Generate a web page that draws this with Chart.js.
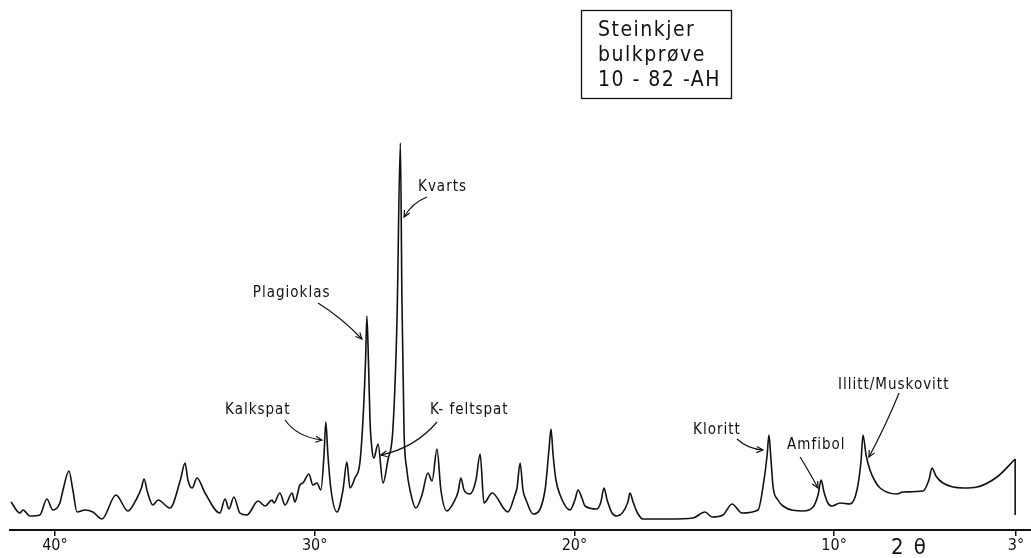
<!DOCTYPE html>
<html>
<head>
<meta charset="utf-8">
<script src="https://cdn.jsdelivr.net/npm/chart.js@4.4.0/dist/chart.umd.min.js"></script>
<style>
	html, body { margin: 0; padding: 0; background: #fff; }
	#wrap { width: 1031px; height: 558px; }
</style>
</head>
<body>
<div id="wrap"><canvas id="xrd" width="1031" height="558"></canvas></div>
<script>
// diffractogram, 2theta in degrees (falling) and relative intensity
const twoTheta = [
	41.69, 41.35, 41.23, 40.96, 40.58, 40.31, 40.08, 39.81, 39.69, 39.46,
	39.31, 39.15, 38.84, 38.54, 38.19, 37.65, 37.19, 36.84, 36.67, 36.57,
	36.44, 36.23, 36.03, 35.57, 35.17, 34.99, 34.88, 34.72, 34.53, 34.22,
	33.65, 33.45, 33.30, 33.11, 32.88, 32.61, 32.18, 31.91, 31.64, 31.57,
	31.34, 31.14, 30.87, 30.76, 30.57, 30.45, 30.22, 30.07, 29.91, 29.76,
	29.64, 29.57, 29.49, 29.37, 29.14, 28.91, 28.76, 28.64, 28.45, 28.26,
	28.14, 28.04, 27.99, 27.93, 27.87, 27.79, 27.72, 27.56, 27.37, 27.18,
	26.99, 26.83, 26.70, 26.64, 26.56, 26.45, 26.33, 26.10, 25.87, 25.64,
	25.48, 25.29, 25.14, 24.91, 24.60, 24.48, 24.37, 24.25, 24.02, 23.79,
	23.63, 23.48, 23.17, 22.56, 22.29, 22.21, 22.09, 21.98, 21.86, 21.59,
	21.13, 20.98, 20.90, 20.82, 20.71, 20.55, 20.17, 19.98, 19.86, 19.71,
	19.59, 19.13, 18.98, 18.86, 18.74, 18.55, 18.36, 17.94, 17.86, 17.74,
	17.59, 17.36, 16.32, 15.43, 14.97, 14.70, 14.28, 13.93, 13.55, 12.93,
	12.70, 12.58, 12.51, 12.43, 12.35, 12.16, 11.97, 11.20, 10.81, 10.62,
	10.50, 10.39, 10.24, 10.08, 9.77, 9.39, 9.12, 8.96, 8.89, 8.77,
	8.62, 8.43, 8.23, 7.58, 7.35, 6.58, 6.35, 6.23, 6.08, 5.81,
	5.04, 4.50, 3.73, 3.03
]
const intensity = [
	28, 17, 20, 14, 15, 31, 20, 27, 40, 59,
	40, 18, 20, 18, 11, 35, 19, 32, 42, 51,
	38, 25, 30, 22, 50, 67, 50, 42, 52, 37,
	17, 31, 21, 33, 17, 15, 29, 24, 30, 27,
	37, 25, 37, 28, 45, 47, 56, 45, 47, 40,
	75, 108, 75, 40, 18, 40, 68, 42, 52, 67,
	110, 170, 214, 170, 110, 80, 72, 86, 47, 70,
	100, 210, 387, 230, 100, 60, 40, 22, 35, 57,
	49, 81, 40, 19, 30, 38, 52, 40, 36, 50,
	76, 27, 37, 18, 35, 42, 67, 40, 30, 16,
	40, 80, 101, 75, 50, 35, 20, 30, 40, 32,
	24, 21, 28, 42, 30, 17, 14, 28, 37, 28,
	18, 11, 11, 12, 18, 13, 15, 26, 17, 20,
	50, 75, 95, 70, 43, 30, 24, 19, 23, 35,
	50, 38, 27, 24, 27, 26, 40, 70, 95, 75,
	60, 49, 42, 36, 38, 39, 50, 62, 54, 47,
	42, 43, 53, 71
]
// pen drops back at the end of the scan
const endBaseline = 15

const tickDegrees = [40, 30, 20, 10, 3]
const axisTitle = '2 θ'
const sampleBox = ['Steinkjer', 'bulkprøve', '10 - 82 -AH']

// mineral labels: text anchor, arrow start, bend point and tip (2theta, intensity)
const mineralNames = ['Kvarts', 'Plagioklas', 'Kalkspat', 'K- feltspat', 'Kloritt', 'Amfibol', 'Illitt/Muskovitt']
const labelAt = [[26.02, 343], [32.38, 237], [33.45, 120], [25.56, 120], [15.43, 100], [11.81, 85], [9.85, 145]]
const arrowFrom = [[25.68, 333], [29.87, 227], [31.14, 110], [25.29, 108], [13.74, 91], [11.31, 73], [7.50, 137]]
const arrowVia = [[26.25, 327], [28.95, 212], [30.68, 93], [26.14, 82], [13.32, 81], [11.00, 60], [8.00, 105]]
const arrowTo = [[26.56, 313], [28.18, 191], [29.72, 90], [27.45, 75], [12.74, 80], [10.62, 42], [8.66, 73]]

const penFont = '"DejaVu Sans Condensed", "DejaVu Sans", sans-serif'

const annotations = {
	id: 'annotations',
	afterDraw(chart) {
		const ctx = chart.ctx
		const xs = chart.scales.x
		const ys = chart.scales.y
		const px = p => [xs.getPixelForValue(p[0]), ys.getPixelForValue(p[1])]

		ctx.save()
		ctx.fillStyle = '#111'
		ctx.strokeStyle = '#111'
		ctx.lineWidth = 1.2
		ctx.font = '15px ' + penFont
		ctx.letterSpacing = '1px'
		ctx.textBaseline = 'middle'
		ctx.textAlign = 'left'

		mineralNames.forEach((name, i) => {
			const t = px(labelAt[i])
			ctx.fillText(name, t[0], t[1])

			const a = px(arrowFrom[i]), b = px(arrowVia[i]), c = px(arrowTo[i])
			ctx.beginPath()
			ctx.moveTo(a[0], a[1])
			ctx.quadraticCurveTo(b[0], b[1], c[0], c[1])
			ctx.stroke()

			const ang = Math.atan2(c[1] - b[1], c[0] - b[0])
			ctx.beginPath()
			ctx.moveTo(c[0] - 7 * Math.cos(ang - 0.45), c[1] - 7 * Math.sin(ang - 0.45))
			ctx.lineTo(c[0], c[1])
			ctx.lineTo(c[0] - 7 * Math.cos(ang + 0.45), c[1] - 7 * Math.sin(ang + 0.45))
			ctx.stroke()
		})

		// sample box top right
		ctx.lineWidth = 1.3
		ctx.strokeRect(581.5, 10.5, 150, 88)
		ctx.font = '21px ' + penFont
		ctx.letterSpacing = '1.5px'
		sampleBox.forEach((line, i) => {
			ctx.fillText(line, 598, 31 + i * 25)
		})

		// 2theta title next to the 10 degree tick
		ctx.font = '22px ' + penFont
		ctx.letterSpacing = '2px'
		ctx.textAlign = 'center'
		ctx.fillText(axisTitle, xs.getPixelForValue(7.1), xs.bottom - 10)
		ctx.restore()
	}
}

const points = twoTheta.map((x, i) => ({ x: x, y: intensity[i] }))
const last = points[points.length - 1]

new Chart(document.getElementById('xrd'), {
	type: 'line',
	data: {
		datasets: [{
			data: points,
			borderColor: '#111',
			borderWidth: 1.6,
			pointRadius: 0,
			fill: false,
			cubicInterpolationMode: 'monotone'
		}, {
			data: [last, { x: last.x, y: endBaseline }],
			borderColor: '#111',
			borderWidth: 1.6,
			pointRadius: 0,
			fill: false
		}]
	},
	options: {
		responsive: false,
		animation: false,
		layout: { padding: { top: 130, left: 10, right: 0, bottom: 0 } },
		plugins: {
			legend: { display: false },
			tooltip: { enabled: false }
		},
		scales: {
			x: {
				type: 'linear',
				reverse: true,
				min: 2.42,
				max: 41.73,
				afterBuildTicks: s => { s.ticks = tickDegrees.map(v => ({ value: v })) },
				afterFit: s => { s.height = 28 },
				grid: { display: true, drawOnChartArea: false, drawTicks: true, tickLength: 6, color: '#111', lineWidth: 1.5 },
				border: { display: true, color: '#111', width: 2 },
				ticks: {
					padding: 0,
					color: '#111',
					font: { family: penFont, size: 16 },
					callback: v => v + '°'
				}
			},
			y: {
				display: false,
				min: 0,
				max: 400
			}
		}
	},
	plugins: [annotations]
})
</script>
</body>
</html>
